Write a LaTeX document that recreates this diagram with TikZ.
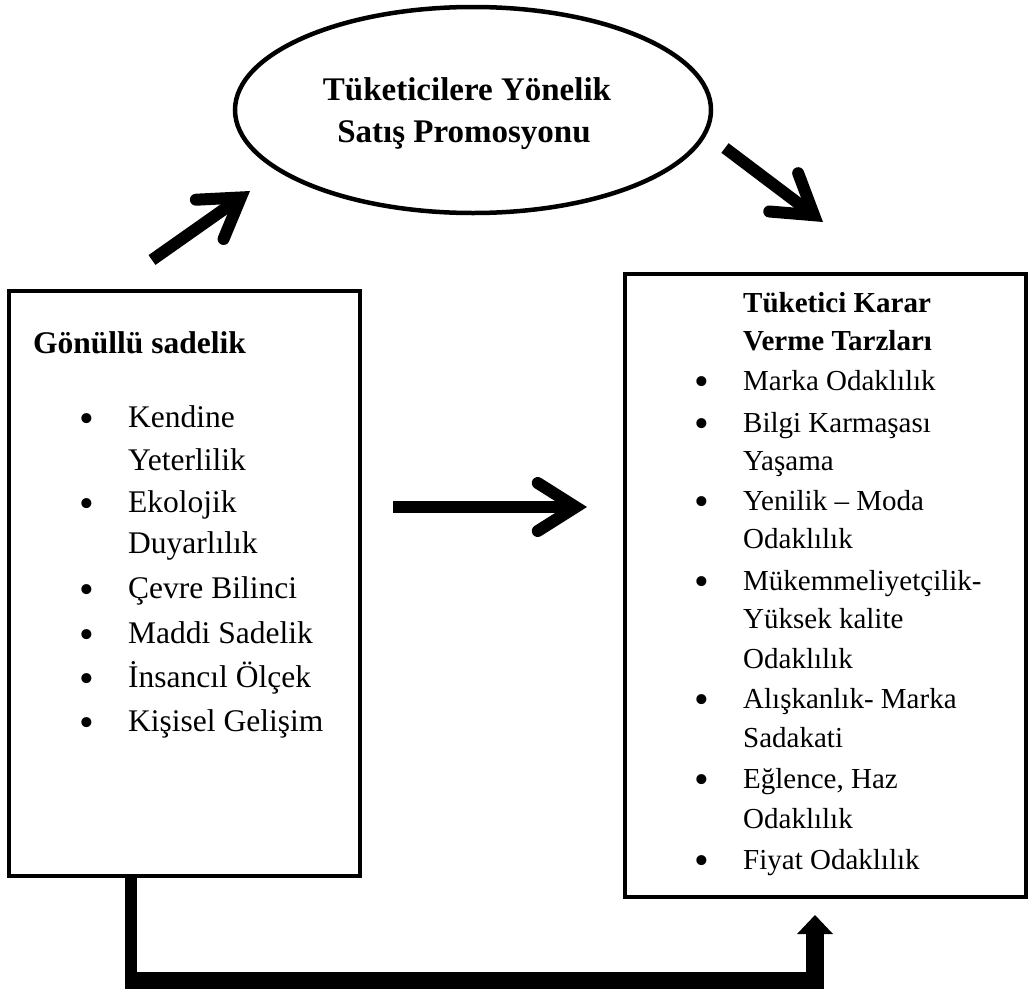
\documentclass[tikz,border=0pt]{standalone}
\usepackage{fontspec}
\setmainfont{Liberation Serif}
\usetikzlibrary{arrows.meta,shapes.geometric}
\begin{document}
\begin{tikzpicture}[x=1pt,y=-1pt,
  frame/.style={draw, line width=4.5pt, inner sep=0pt},
  lt/.style={anchor=base west, inner sep=0pt, font=\fontsize{31.5}{38}\selectfont},
  rt/.style={anchor=base west, inner sep=0pt, font=\fontsize{29}{35}\selectfont},
  bul/.style={anchor=base, inner sep=0pt, yshift=-5.5pt, font=\fontsize{42}{42}\selectfont},
  et/.style={anchor=base, inner sep=0pt, font=\fontsize{33}{40}\selectfont\bfseries},
  bigarrow/.style={line width=12pt, -{Straight Barb[length=38pt,width=48pt,line cap=round,line join=miter]}},
  conn/.style={line width=17.5pt, line join=miter, -{Triangle[length=19pt,width=36pt,line width=0pt]}}]
\useasboundingbox (0,0) rectangle (1029,991);

% shapes
\node[frame, ellipse, minimum width=476pt, minimum height=206pt] (E) at (473,110) {};
\node[frame, minimum width=351pt, minimum height=585pt] (L) at (184.5,583.5) {};
\node[frame, minimum width=401pt, minimum height=623pt] (R) at (825.5,585.5) {};

% ellipse text
\node[et] (e1) at (467,100) {Tüketicilere Yönelik};
\node[et] (e2) at (464,142) {Satış Promosyonu};

% left box text
\node[lt, font=\fontsize{31.5}{38}\selectfont\bfseries] (l0) at (33,353) {Gönüllü sadelik};
\node[bul] (lb1) at (87,427) {\textbullet};
\node[lt] (l1) at (128,427) {Kendine};
\node[lt] (l2) at (128,470) {Yeterlilik};
\node[bul] (lb2) at (87,512) {\textbullet};
\node[lt] (l3) at (128,512) {Ekolojik};
\node[lt] (l4) at (128,553) {Duyarlılık};
\node[bul] (lb3) at (87,598) {\textbullet};
\node[lt] (l5) at (128,598) {Çevre Bilinci};
\node[bul] (lb4) at (87,643) {\textbullet};
\node[lt] (l6) at (128,643) {Maddi Sadelik};
\node[bul] (lb5) at (87,687) {\textbullet};
\node[lt] (l7) at (128,687) {İnsancıl Ölçek};
\node[bul] (lb6) at (87,731) {\textbullet};
\node[lt] (l8) at (128,731) {Kişisel Gelişim};

% right box text
\node[rt, font=\fontsize{29}{35}\selectfont\bfseries] (r0) at (743,312) {Tüketici Karar};
\node[rt, font=\fontsize{29}{35}\selectfont\bfseries] (r00) at (743,350) {Verme Tarzları};
\node[bul] (rb1) at (702,390) {\textbullet};
\node[rt] (r1) at (743,390) {Marka Odaklılık};
\node[bul] (rb2) at (702,432) {\textbullet};
\node[rt] (r2) at (743,432) {Bilgi Karmaşası};
\node[rt] (r3) at (743,470) {Yaşama};
\node[bul] (rb3) at (702,510) {\textbullet};
\node[rt] (r4) at (743,510) {Yenilik – Moda};
\node[rt] (r5) at (743,548) {Odaklılık};
\node[bul] (rb4) at (702,590) {\textbullet};
\node[rt] (r6) at (743,590) {Mükemmeliyetçilik-};
\node[rt] (r7) at (743,628) {Yüksek kalite};
\node[rt] (r8) at (743,668) {Odaklılık};
\node[bul] (rb5) at (702,708) {\textbullet};
\node[rt] (r9) at (743,708) {Alışkanlık- Marka};
\node[rt] (r10) at (743,747) {Sadakati};
\node[bul] (rb6) at (702,788) {\textbullet};
\node[rt] (r11) at (743,788) {Eğlence, Haz};
\node[rt] (r12) at (743,828) {Odaklılık};
\node[bul] (rb7) at (702,869) {\textbullet};
\node[rt] (r13) at (743,869) {Fiyat Odaklılık};

% arrows
\coordinate (a1s) at (152,260);
\coordinate (a1e) at (250,191);
\coordinate (a2s) at (725,148);
\coordinate (a2e) at (823,222);
\coordinate (a3s) at (393,507);
\coordinate (a3e) at (587,507);
\draw[bigarrow] (a1s) -- (a1e);
\draw[bigarrow] (a2s) -- (a2e);
\draw[bigarrow] (a3s) -- (a3e);

% bottom connector
\coordinate (v1) at (131,989);
\coordinate (b1) at (125,980.5);
\coordinate (b2) at (815,980.5);
\coordinate (b3) at (815,915);
\draw[line width=12pt] (L.south -| v1) -- (v1);
\draw[conn] (b1) -- (b2) -- (b3);
\end{tikzpicture}
\end{document}
